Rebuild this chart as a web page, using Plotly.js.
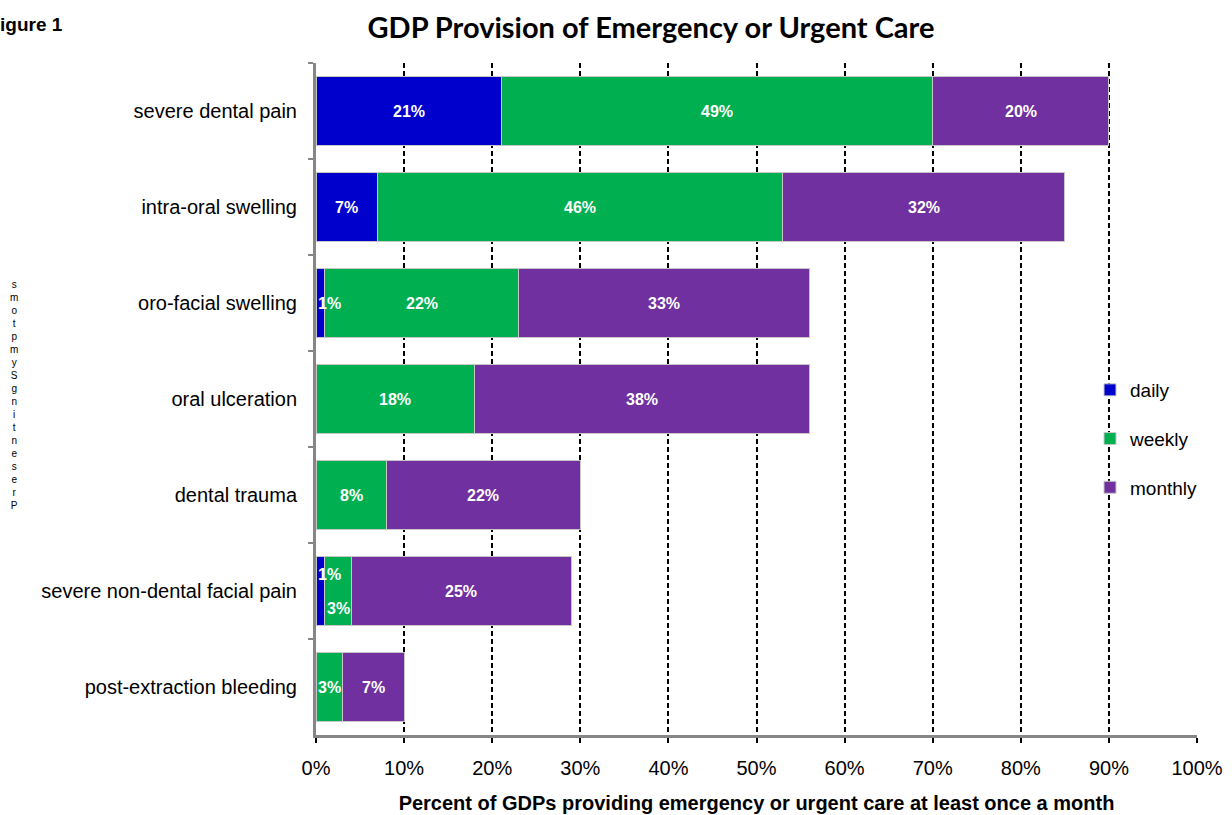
<!DOCTYPE html>
<html>
<head>
<meta charset="utf-8">
<script src="https://cdn.plot.ly/plotly-3.0.1.min.js"></script>
<style>html,body{margin:0;padding:0;background:#fff;}#chart{width:1232px;height:815px;}</style>
</head>
<body>
<div id="chart"></div>
<script>
var categories = ["severe dental pain", "intra-oral swelling", "oro-facial swelling", "oral ulceration", "dental trauma", "severe non-dental facial pain", "post-extraction bleeding"];
var daily   = [21, 7, 1, 0, 0, 1, 0];
var weekly  = [49, 46, 22, 18, 8, 3, 3];
var monthly = [20, 32, 33, 38, 22, 25, 7];
var seriesNames = ["daily", "weekly", "monthly"];
var seriesColors = ["#0000CC", "#00B050", "#7030A0"];
var xTickVals = [0,10,20,30,40,50,60,70,80,90,100];
var xTickText = ["0%","10%","20%","30%","40%","50%","60%","70%","80%","90%","100%"];
var yTitleText = "Presenting Symptoms";
var figLabel = "igure 1";

var W = 1232, H = 815;
var M = {l: 316, r: 35, t: 63, b: 80};
var pw = W - M.l - M.r, ph = H - M.t - M.b;
function px2x(px){ return (px - M.l) / pw; }
function py2y(py){ return 1 - (py - M.t) / ph; }

var allSeries = [daily, weekly, monthly];
var traces = allSeries.map(function(vals, i){
  return {
    type: "bar", orientation: "h", name: seriesNames[i],
    x: vals, y: categories,
    marker: {color: seriesColors[i], line: {color: "#c8c8c8", width: 1}},
    legendgroup: "g" + i, hoverinfo: "x+name"
  };
});

var annotations = [];
categories.forEach(function(cat, ci){
  var start = 0;
  var rowAnns = [];
  allSeries.forEach(function(vals, si){
    var v = vals[ci];
    if (v > 0) {
      var small = v < 2;
      var a = {
        xref: "x", yref: "y", x: small ? start : start + v/2, y: cat,
        text: "<b>" + v + "%</b>", showarrow: false,
        xanchor: small ? "left" : "center",
        font: {family: "Liberation Sans, Arial, sans-serif", size: 16, color: "#ffffff"}
      };
      var c = start + v/2;
      if (rowAnns.length && Math.abs(c - rowAnns[rowAnns.length-1].c) < 3) {
        rowAnns[rowAnns.length-1].a.yshift = 17;
        a.yshift = -17;
      }
      rowAnns.push({a: a, c: c});
    }
    start += v;
  });
  rowAnns.forEach(function(r){ annotations.push(r.a); });
});

annotations.push({
  xref: "paper", yref: "paper", x: px2x(-2), y: py2y(24), xanchor: "left", yanchor: "middle",
  text: "<b>" + figLabel + "</b>", showarrow: false,
  font: {family: "Liberation Sans, Arial, sans-serif", size: 19, color: "#000"}
});

var letters = yTitleText.replace(/ /g, "").split("").reverse();
annotations.push({
  xref: "paper", yref: "paper", x: px2x(14), y: py2y(395),
  xanchor: "center", yanchor: "middle", text: letters.join("<br>"), showarrow: false,
  align: "center",
  font: {family: "Liberation Sans, Arial, sans-serif", size: 10, color: "#000"}
});

var layout = {
  width: W, height: H,
  margin: M,
  barmode: "stack",
  bargap: 0.29,
  paper_bgcolor: "#fff", plot_bgcolor: "#fff",
  title: {
    text: "<b>GDP Provision of Emergency or Urgent Care</b>",
    font: {family: "Lato, sans-serif", size: 29, color: "#000"},
    x: 651 / W, xref: "container", xanchor: "center",
    y: 1 - 28 / H, yref: "container", yanchor: "middle"
  },
  xaxis: {
    range: [0, 100], tickvals: xTickVals, ticktext: xTickText,
    showgrid: true, gridcolor: "#000", gridwidth: 2, griddash: "5px,3px",
    zeroline: false, showline: true, linecolor: "#868686", linewidth: 3,
    ticks: "outside", ticklen: 5, tickcolor: "#000", tickwidth: 2,
    ticklabelstandoff: 8,
    tickfont: {family: "Liberation Sans, Arial, sans-serif", size: 20, color: "#000"},
    title: {text: "<b>Percent of GDPs providing emergency or urgent care at least once a month</b>",
            font: {family: "Liberation Sans, Arial, sans-serif", size: 20, color: "#000"}, standoff: 18},
    fixedrange: true
  },
  yaxis: {
    type: "category", autorange: "reversed",
    showline: true, linecolor: "#868686", linewidth: 3,
    ticks: "outside", tickson: "boundaries", ticklen: 5, tickcolor: "#868686", tickwidth: 2,
    showgrid: false, ticklabelstandoff: 12,
    tickfont: {family: "Liberation Sans, Arial, sans-serif", size: 20, color: "#000"},
    fixedrange: true
  },
  legend: {
    x: px2x(1090), y: py2y(371), xanchor: "left", yanchor: "top",
    bgcolor: "rgba(0,0,0,0)", traceorder: "grouped", tracegroupgap: 21,
    font: {family: "Liberation Sans, Arial, sans-serif", size: 19, color: "#000"},
    itemwidth: 30
  },
  annotations: annotations,
  showlegend: true
};

Plotly.newPlot("chart", traces, layout, {displayModeBar: false, staticPlot: true});
</script>
</body>
</html>
